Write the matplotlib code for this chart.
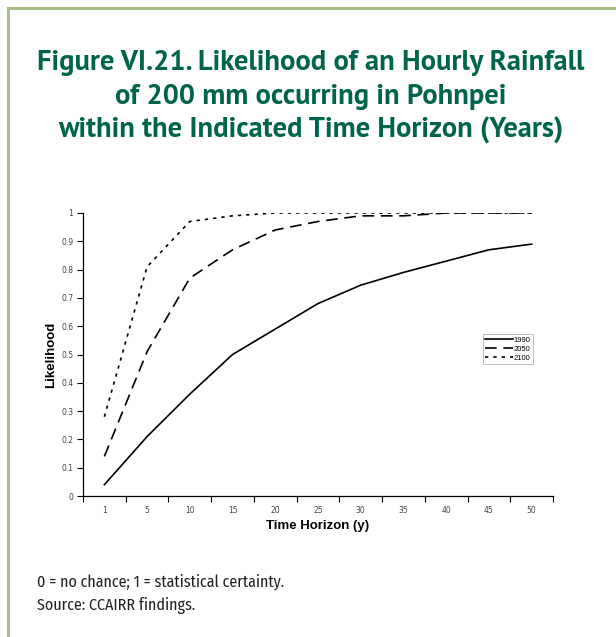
import matplotlib.pyplot as plt
from matplotlib.patches import Rectangle

# data (Excel-style category axis)
horizon = ['1', '5', '10', '15', '20', '25', '30', '35', '40', '45', '50']
y1990 = [0.04, 0.21, 0.36, 0.50, 0.59, 0.68, 0.745, 0.79, 0.83, 0.87, 0.89]
y2050 = [0.14, 0.51, 0.77, 0.87, 0.94, 0.97, 0.99, 0.99, 1.0, 1.0, 1.0]
y2100 = [0.28, 0.81, 0.97, 0.99, 1.0, 1.0, 1.0, 1.0, 1.0, 1.0, 1.0]
series_names = ['1990', '2050', '2100']

title_lines = ['Figure VI.21. Likelihood of an Hourly Rainfall',
               'of 200 mm occurring in Pohnpei',
               'within the Indicated Time Horizon (Years)']
notes = ['0 = no chance; 1 = statistical certainty.', 'Source: CCAIRR findings.']

cond = 'Fira Sans Condensed'
green = '#00634c'
H = 637

fig = plt.figure(figsize=(6.16, 6.37), dpi=100)

# light green frame (top and left edges visible)
fig.add_artist(Rectangle((8 / 616, -0.05), 1.0, 1 - 8 / H + 0.05,
                         transform=fig.transFigure, fill=False,
                         edgecolor='#a8bf88', linewidth=2.2))

for line, base in zip(title_lines, [70, 104, 138]):
    fig.text(311 / 616, 1 - base / H, line, ha='center', va='baseline', color=green,
             fontsize=20.5, fontweight='bold', family='PT Sans')

ax = fig.add_axes([83 / 616, 1 - 496 / H, 470 / 616, 283 / H])
x = list(range(len(horizon)))
ax.plot(x, y1990, color='black', lw=1.2, ls='-', label=series_names[0])
ax.plot(x, y2050, color='black', lw=1.2, ls=(0, (7, 4)), label=series_names[1])
ax.plot(x, y2100, color='black', lw=1.2, ls=(0, (2, 3)), label=series_names[2])

ax.set_xlim(-0.5, len(horizon) - 0.5)
ax.set_ylim(0, 1)
ax.set_xticks(x)
ax.set_xticklabels(horizon)
ax.set_xticks([i - 0.5 for i in range(len(horizon) + 1)], minor=True)
ax.tick_params(axis='x', which='major', length=0, labelsize=5.5, labelcolor='#444444', pad=7)
ax.tick_params(axis='x', which='minor', length=4, direction='out', width=0.8)
ax.set_yticks([i / 10 for i in range(11)])
ax.set_yticklabels(['0', '0.1', '0.2', '0.3', '0.4', '0.5', '0.6', '0.7', '0.8', '0.9', '1'])
ax.tick_params(axis='y', length=4, direction='out', width=0.8, labelsize=5.5,
               labelcolor='#444444', pad=3)
for s in ['top', 'right']:
    ax.spines[s].set_visible(False)
for s in ['left', 'bottom']:
    ax.spines[s].set_linewidth(0.9)

ax.set_xlabel('Time Horizon (y)', fontsize=9.5, fontweight='bold', labelpad=4,
              family='Liberation Sans')
ax.set_ylabel('Likelihood', fontsize=9.5, fontweight='bold', labelpad=3,
              family='Liberation Sans')

leg = ax.legend(loc='upper left', bbox_to_anchor=(400 / 470, 1 - 121 / 283),
                frameon=True, fancybox=False, handlelength=3.6,
                handletextpad=0.15, borderpad=0.3, labelspacing=0.25,
                borderaxespad=0, prop={'family': 'Liberation Sans', 'size': 5.5})
leg.get_frame().set_edgecolor('#aaaaaa')
leg.get_frame().set_linewidth(0.7)

for note, base in zip(notes, [586, 610]):
    fig.text(37 / 616, 1 - base / H, note, ha='left', va='baseline',
             fontsize=11.5, family=cond, color='#231f20')

fig.savefig('out.png', dpi=100)
